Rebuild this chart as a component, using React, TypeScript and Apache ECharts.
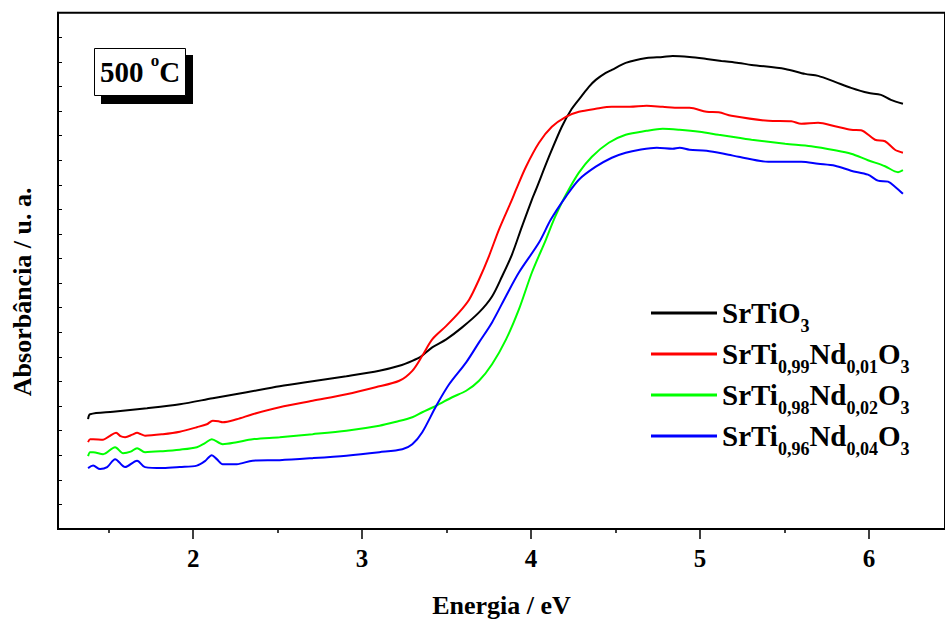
import React, { useEffect, useRef } from "react";
import * as echarts from "echarts";

// Energy (eV) vs absorbance (arbitrary units)
const srTiO3: [number, number][] = [
  [1.378, 22.0], [1.39, 23.0], [1.526, 23.5], [1.727, 24.2], [1.921, 25.0], [2.116, 26.2],
  [2.317, 27.4], [2.512, 28.6], [2.707, 29.6], [2.907, 30.6], [3.102, 31.7], [3.22, 32.7],
  [3.297, 33.7], [3.35, 34.6], [3.415, 36.4], [3.498, 38.0], [3.592, 40.4], [3.692, 43.4],
  [3.769, 46.6], [3.828, 50.6], [3.887, 55.0], [3.946, 60.6], [4.005, 66.0], [4.029, 68.0],
  [4.106, 74.6], [4.182, 80.6], [4.241, 84.2], [4.3, 86.8], [4.342, 88.6], [4.383, 90.0],
  [4.442, 91.4], [4.478, 92.0], [4.56, 93.4], [4.684, 94.4], [4.779, 94.6], [4.838, 94.8],
  [4.938, 94.6], [5.039, 94.2], [5.127, 93.8], [5.228, 93.4], [5.305, 93.0], [5.504, 92.2],
  [5.622, 91.2], [5.699, 90.8], [5.799, 89.6], [5.894, 88.4], [5.994, 87.4], [6.071, 87.0],
  [6.13, 86.0], [6.201, 85.2],
];

const nd001: [number, number][] = [
  [1.378, 17.4], [1.39, 18.0], [1.408, 18.0], [1.467, 17.9], [1.5, 18.5], [1.544, 19.3],
  [1.57, 18.6], [1.597, 18.4], [1.64, 18.9], [1.668, 19.3], [1.69, 19.0], [1.715, 18.7],
  [1.821, 19.0], [1.921, 19.5], [2.022, 20.4], [2.081, 21.0], [2.116, 21.7], [2.15, 21.6],
  [2.175, 21.4], [2.258, 22.0], [2.352, 23.0], [2.512, 24.4], [2.707, 25.7], [2.907, 27.0],
  [3.08, 28.4], [3.22, 29.7], [3.297, 31.7], [3.356, 34.7], [3.415, 38.0], [3.498, 40.7],
  [3.574, 43.4], [3.634, 46.0], [3.692, 50.0], [3.751, 54.7], [3.81, 60.0], [3.887, 66.0],
  [3.911, 68.0], [3.97, 72.6], [4.047, 77.4], [4.123, 80.6], [4.206, 82.6], [4.283, 83.6],
  [4.383, 84.2], [4.478, 84.6], [4.584, 84.6], [4.684, 84.8], [4.779, 84.6], [4.879, 84.4],
  [4.938, 84.4], [5.039, 83.6], [5.11, 83.5], [5.186, 82.8], [5.404, 81.8], [5.54, 81.7],
  [5.599, 81.2], [5.699, 81.4], [5.799, 80.7], [5.894, 80.0], [5.953, 79.9], [6.036, 78.0],
  [6.095, 77.7], [6.154, 76.0], [6.201, 75.4],
];

const nd002: [number, number][] = [
  [1.378, 14.6], [1.39, 15.4], [1.408, 15.4], [1.467, 15.0], [1.538, 16.4], [1.585, 15.2],
  [1.63, 15.5], [1.668, 16.2], [1.715, 15.4], [1.821, 15.6], [1.921, 15.9], [2.022, 16.4],
  [2.07, 17.2], [2.11, 18.0], [2.175, 17.0], [2.258, 17.4], [2.352, 18.0], [2.512, 18.4],
  [2.707, 19.0], [2.907, 19.7], [3.102, 20.7], [3.202, 21.5], [3.297, 22.4], [3.356, 23.4],
  [3.439, 24.7], [3.533, 26.4], [3.616, 27.7], [3.692, 29.7], [3.769, 33.0], [3.852, 38.0],
  [3.928, 44.0], [4.005, 51.4], [4.088, 58.0], [4.135, 62.0], [4.182, 65.4], [4.206, 67.0],
  [4.283, 71.4], [4.36, 74.6], [4.46, 77.4], [4.56, 79.0], [4.684, 79.8], [4.779, 80.2],
  [4.879, 80.0], [4.997, 79.6], [5.11, 79.0], [5.228, 78.4], [5.305, 78.0], [5.504, 77.2],
  [5.658, 76.7], [5.799, 75.9], [5.894, 75.2], [5.994, 73.9], [6.095, 72.7], [6.172, 71.5],
  [6.201, 71.9],
];

const nd004: [number, number][] = [
  [1.378, 12.2], [1.408, 12.7], [1.449, 12.0], [1.491, 12.4], [1.538, 14.0], [1.597, 12.4],
  [1.668, 13.7], [1.715, 12.4], [1.821, 12.2], [1.921, 12.4], [2.022, 12.7], [2.07, 13.6],
  [2.11, 14.8], [2.14, 14.0], [2.175, 13.0], [2.258, 13.0], [2.352, 13.7], [2.512, 13.8],
  [2.707, 14.2], [2.907, 14.7], [3.102, 15.4], [3.238, 16.0], [3.297, 17.0], [3.356, 19.4],
  [3.439, 24.7], [3.515, 29.0], [3.616, 33.4], [3.692, 37.4], [3.769, 41.4], [3.852, 46.7],
  [3.928, 51.4], [4.047, 57.4], [4.117, 62.0], [4.206, 66.6], [4.283, 70.0], [4.383, 72.6],
  [4.478, 74.4], [4.56, 75.4], [4.643, 76.0], [4.744, 76.4], [4.838, 76.2], [4.879, 76.4],
  [4.938, 76.0], [5.039, 75.8], [5.169, 75.0], [5.228, 74.6], [5.404, 73.6], [5.599, 73.6],
  [5.699, 73.2], [5.799, 72.8], [5.894, 71.8], [5.994, 71.0], [6.053, 69.8], [6.113, 69.6],
  [6.154, 68.6], [6.201, 67.2],
];

const seriesNames = ["SrTiO3", "SrTi0,99Nd0,01O3", "SrTi0,98Nd0,02O3", "SrTi0,96Nd0,04O3"];
const seriesColors = ["#000000", "#ff0000", "#00ff00", "#0000ff"];
const legendRich: Record<string, string> = {
  "SrTiO3": "{m|SrTiO}{s|3}",
  "SrTi0,99Nd0,01O3": "{m|SrTi}{s|0,99}{m|Nd}{s|0,01}{m|O}{s|3}",
  "SrTi0,98Nd0,02O3": "{m|SrTi}{s|0,98}{m|Nd}{s|0,02}{m|O}{s|3}",
  "SrTi0,96Nd0,04O3": "{m|SrTi}{s|0,96}{m|Nd}{s|0,04}{m|O}{s|3}",
};
const majorTicks = [2, 3, 4, 5, 6];
const minorTicks = [1.5, 2.5, 3.5, 4.5, 5.5];
const X_MIN = 1.2;
const X_MAX = 6.45;
const Y_MAX = 103.46;
const Y_STEP = Y_MAX / 21;

const FONT = "'Liberation Serif', 'Times New Roman', serif";

export default function App() {
  const ref = useRef<HTMLDivElement>(null);
  useEffect(() => {
    if (!ref.current) return;
    const chart = echarts.init(ref.current, null, { renderer: "svg" });
    const allData = [srTiO3, nd001, nd002, nd004];
    chart.setOption({
      animation: false,
      backgroundColor: "#ffffff",
      grid: {
        left: 58,
        right: -2,
        top: 12.7,
        bottom: 93,
        show: true,
        borderColor: "#000",
        borderWidth: 2,
        backgroundColor: "transparent",
      },
      xAxis: [
        {
          type: "value",
          min: X_MIN,
          max: X_MAX,
          position: "bottom",
          axisLine: { show: true, lineStyle: { color: "#000", width: 2 } },
          axisTick: { show: true, inside: false, length: 10, customValues: majorTicks, lineStyle: { color: "#000", width: 1.5 } },
          axisLabel: {
            show: true,
            customValues: majorTicks,
            margin: 17,
            fontSize: 25,
            fontWeight: "bold",
            fontFamily: FONT,
            color: "#000",
          },
          splitLine: { show: false },
          name: "Energia / eV",
          nameLocation: "middle",
          nameGap: 63,
          nameTextStyle: { fontSize: 26, fontWeight: "bold", fontFamily: FONT, color: "#000" },
        },
        {
          type: "value",
          min: X_MIN,
          max: X_MAX,
          position: "bottom",
          axisLine: { show: false },
          axisTick: { show: true, inside: false, length: 4, customValues: minorTicks, lineStyle: { color: "#000", width: 1.5 } },
          axisLabel: { show: false },
          splitLine: { show: false },
        },
      ],
      yAxis: {
        type: "value",
        min: 0,
        max: Y_MAX,
        interval: Y_STEP,
        axisLine: { show: true, lineStyle: { color: "#000", width: 2 } },
        axisTick: { show: true, inside: true, length: 4, lineStyle: { color: "#000", width: 1 } },
        axisLabel: { show: false },
        splitLine: { show: false },
        name: "Absorbância / u. a.",
        nameLocation: "middle",
        nameGap: 23,
        nameTextStyle: { fontSize: 26, fontWeight: "bold", fontFamily: FONT, color: "#000", padding: [0, 42, 0, 0] },
      },
      legend: {
        orient: "vertical",
        left: 646,
        top: 286,
        itemWidth: 66,
        itemHeight: 3,
        itemGap: -3,
        icon: "rect",
        data: seriesNames,
        formatter: (name: string) => legendRich[name] || name,
        textStyle: {
          color: "#000",
          rich: {
            m: { fontSize: 29, fontWeight: "bold", fontFamily: FONT, color: "#000", lineHeight: 30, verticalAlign: "middle" },
            s: { fontSize: 18, fontWeight: "bold", fontFamily: FONT, color: "#000", lineHeight: 17, padding: [26, 0, 0, 0], verticalAlign: "middle" },
          },
        },
      },
      graphic: [
        { type: "rect", z: 10, shape: { x: 101, y: 55, width: 92, height: 49 }, style: { fill: "#000" } },
        { type: "rect", z: 11, shape: { x: 94.5, y: 48.5, width: 91, height: 47 }, style: { fill: "#fff", stroke: "#000", lineWidth: 1 } },
        {
          type: "text",
          z: 12,
          x: 140,
          y: 72,
          style: {
            text: "{n|500 }{o|o}{n|C}",
            align: "center",
            verticalAlign: "middle",
            rich: {
              n: { fontSize: 29, fontWeight: "bold", fontFamily: FONT, fill: "#000", lineHeight: 30, verticalAlign: "middle" },
              o: { fontSize: 17, fontWeight: "bold", fontFamily: FONT, fill: "#000", lineHeight: 17, padding: [0, 0, 24, 0], verticalAlign: "middle" },
            },
          },
        },
      ],
      series: seriesNames.map((name, i) => ({
        name,
        type: "line",
        xAxisIndex: 0,
        data: allData[i],
        showSymbol: false,
        symbol: "none",
        smooth: 0.3,
        color: seriesColors[i],
        lineStyle: { color: seriesColors[i], width: 2 },
        itemStyle: { color: seriesColors[i] },
      })),
    });
    return () => chart.dispose();
  }, []);
  return (
    <div
      ref={ref}
      style={{ position: "absolute", left: 0, top: 0, width: 945, height: 623, background: "#fff" }}
    />
  );
}
